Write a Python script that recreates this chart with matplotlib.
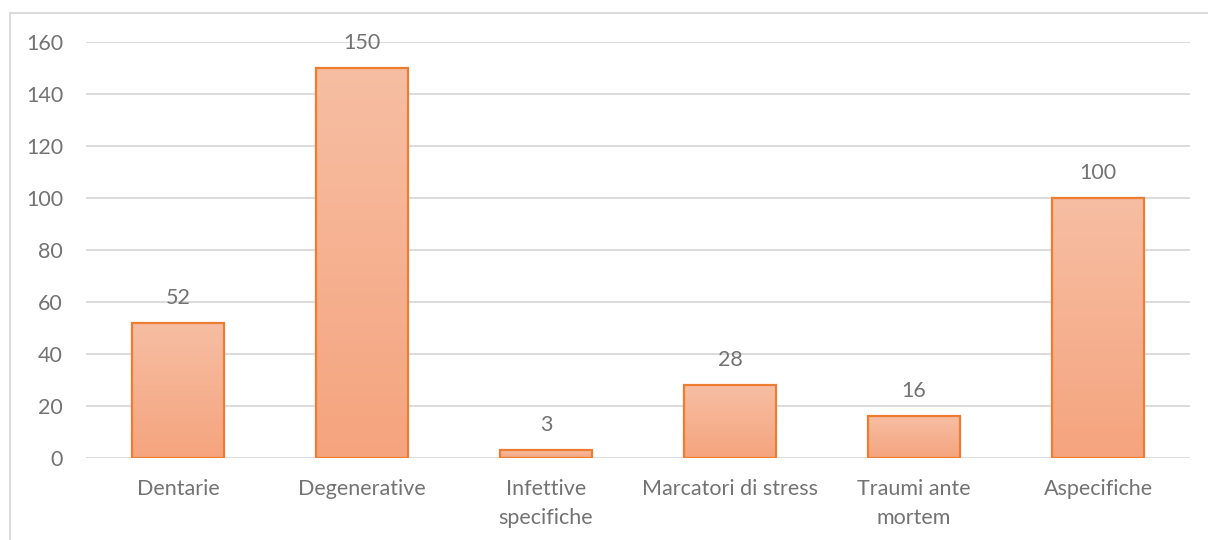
import numpy as np
import matplotlib
matplotlib.use("Agg")
import matplotlib.pyplot as plt
from matplotlib.lines import Line2D
from matplotlib.colors import LinearSegmentedColormap

categories = ["Dentarie", "Degenerative", "Infettive\nspecifiche",
              "Marcatori di stress", "Traumi ante\nmortem", "Aspecifiche"]
values = [52, 150, 3, 28, 16, 100]
yticks = [0, 20, 40, 60, 80, 100, 120, 140, 160]

TEXT = "#737373"
GRID = "#D9D9D9"
EDGE = "#ED7D31"
TOP_COLOR = "#F7BEA3"
BOTTOM_COLOR = "#F5A47E"
FS = 15.5

plt.rcParams["font.family"] = ["Lato", "DejaVu Sans"]

fig = plt.figure(figsize=(12.08, 5.40), dpi=100)
ax = fig.add_axes([0.0712, 0.1519, 0.9139, 0.7703])

x = np.arange(len(categories))
bars = ax.bar(x, values, width=0.5, facecolor="none", edgecolor=EDGE,
              linewidth=1.6, zorder=3)

# vertical gradient fill inside each bar
cmap = LinearSegmentedColormap.from_list("barfill", [BOTTOM_COLOR, TOP_COLOR])
grad = np.linspace(0, 1, 256).reshape(-1, 1)
for b in bars:
    x0, y0 = b.get_x(), b.get_y()
    w, h = b.get_width(), b.get_height()
    ax.imshow(grad, cmap=cmap, origin="lower", aspect="auto",
              extent=(x0, x0 + w, y0, y0 + h), zorder=2,
              interpolation="bilinear")

ax.set_xlim(-0.5, len(categories) - 0.5)
ax.set_ylim(0, 160)
ax.set_yticks(yticks)
ax.set_xticks(x)
ax.set_xticklabels(categories, linespacing=1.6)

ax.grid(axis="y", color=GRID, linewidth=1.3, zorder=1)
ax.set_axisbelow(True)
for s in ax.spines.values():
    s.set_visible(False)
ax.tick_params(axis="both", length=0, colors=TEXT, labelsize=FS)
ax.tick_params(axis="y", pad=16.5)
ax.tick_params(axis="x", pad=15)

for b, v in zip(bars, values):
    ax.annotate(str(v), (b.get_x() + b.get_width() / 2, v),
                xytext=(0, 11), textcoords="offset points",
                ha="center", va="bottom", color=TEXT, fontsize=FS)

# chart frame (top and left edges)
fig.add_artist(Line2D([9.5 / 1208, 1.0], [1 - 13 / 540, 1 - 13 / 540],
                      transform=fig.transFigure, color=GRID, linewidth=1.3))
fig.add_artist(Line2D([9.5 / 1208, 9.5 / 1208], [0.0, 1 - 13 / 540],
                      transform=fig.transFigure, color=GRID, linewidth=1.3))

fig.savefig("out.png", dpi=100)
